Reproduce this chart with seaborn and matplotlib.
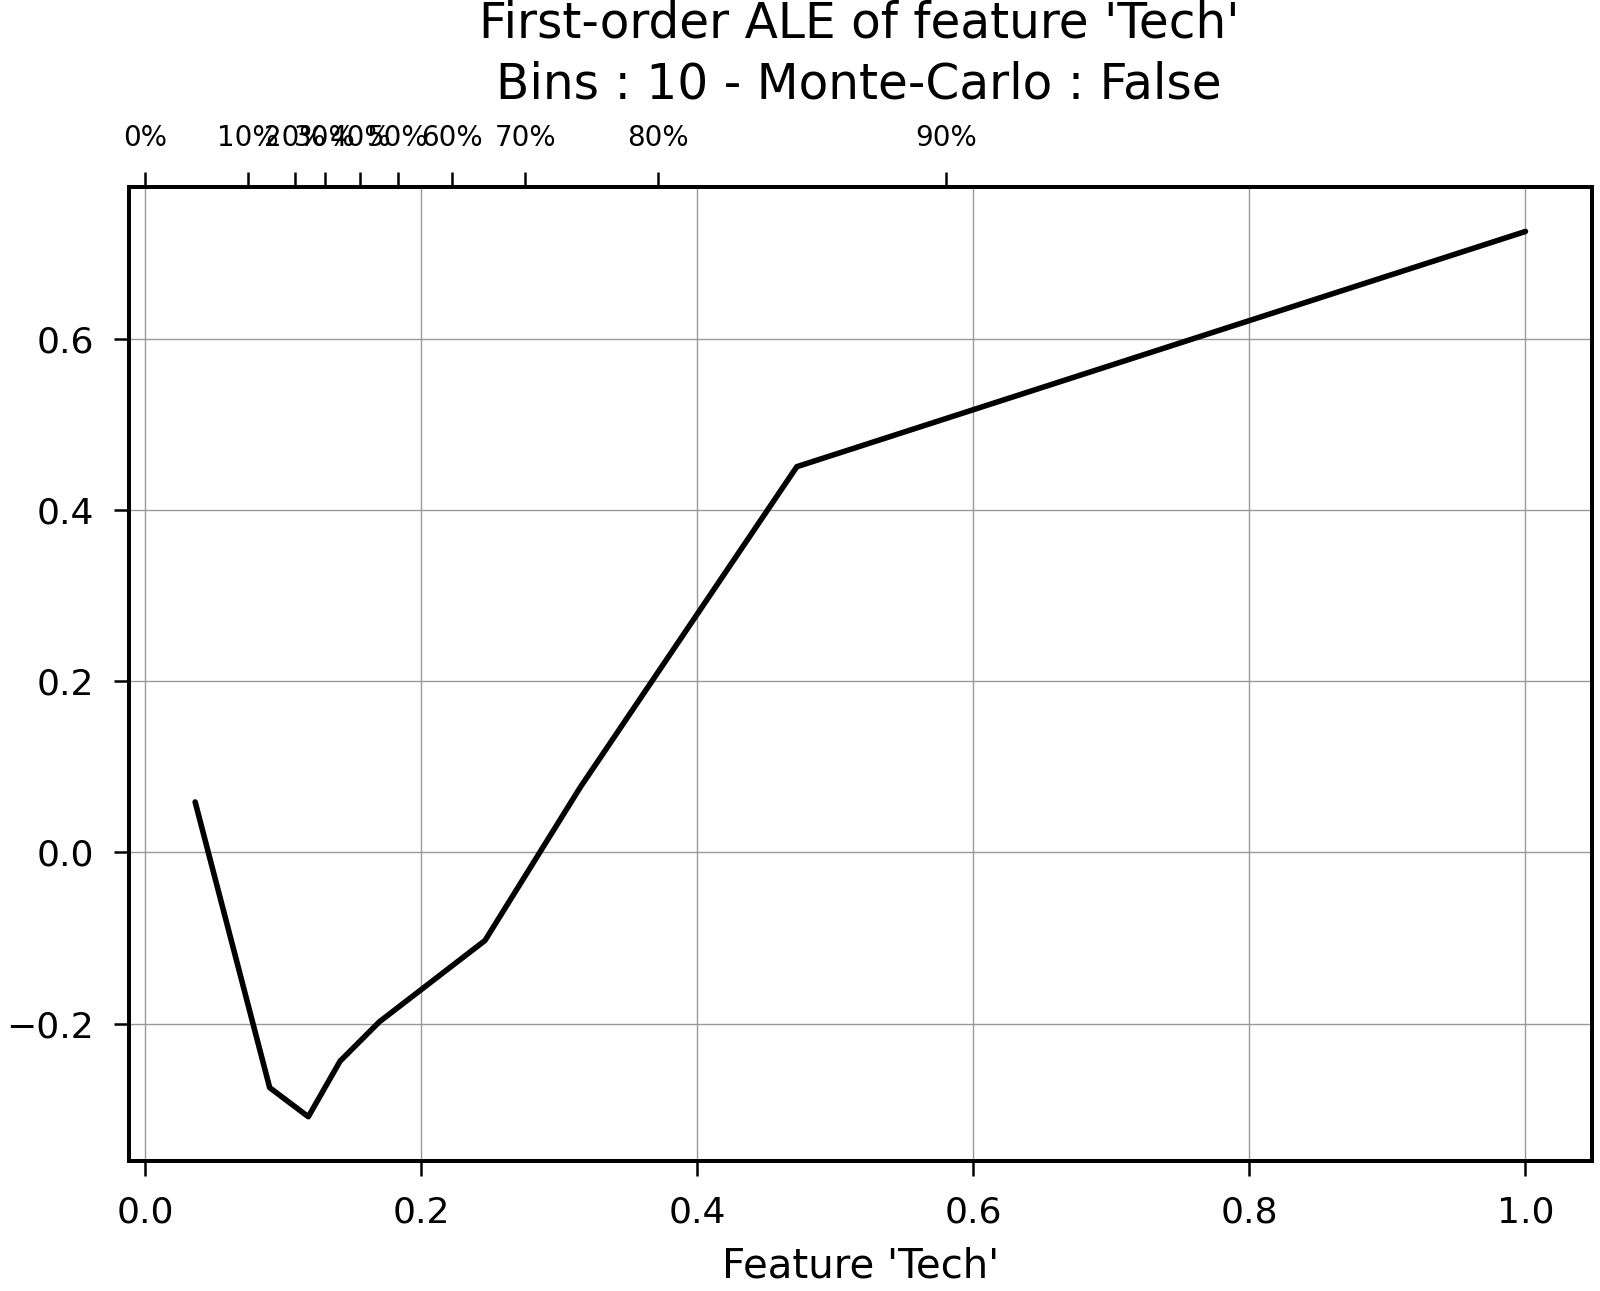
import numpy as np
import pandas as pd
import seaborn as sns
import matplotlib.pyplot as plt

# ALE curve values
feature_x = [0.036, 0.090, 0.118, 0.141, 0.1695, 0.246, 0.315, 0.472, 1.0]
ale_effect = [0.059, -0.275, -0.309, -0.244, -0.198, -0.103, 0.076, 0.451, 0.726]

# quantile edges shown on the top axis
quantile_pos = [0.0, 0.0745, 0.1085, 0.130, 0.1557, 0.183, 0.2221, 0.2753, 0.3712, 0.5801]
quantile_labels = ['0%', '10%', '20%', '30%', '40%', '50%', '60%', '70%', '80%', '90%']

df = pd.DataFrame({'x': feature_x, 'ale': ale_effect})

sns.set_style('ticks')
plt.rcParams['font.family'] = ['DejaVu Sans']
plt.rcParams['text.color'] = 'black'
plt.rcParams['axes.labelcolor'] = 'black'

fig = plt.figure(figsize=(8, 6.455), dpi=200)
ax = fig.add_axes([0.0804, 0.1007, 0.9146, 0.7543])

sns.lineplot(data=df, x='x', y='ale', ax=ax, color='black', linewidth=2.0)
ax.grid(True, color='#999999', linewidth=0.5)

ax.set_xticks([0.0, 0.2, 0.4, 0.6, 0.8, 1.0])
ax.set_yticks([-0.2, 0.0, 0.2, 0.4, 0.6])
ax.tick_params(axis='both', labelsize=13, length=5.5, width=0.9, pad=7, colors='black')
ax.set_xlabel("Feature 'Tech'", fontsize=14.5, labelpad=6)
ax.set_ylabel('')
for s in ax.spines.values():
    s.set_linewidth(1.4)
    s.set_color('black')

# top axis with quantile positions
ax_top = ax.twiny()
ax_top.set_xlim(ax.get_xlim())
ax_top.set_xticks(quantile_pos)
ax_top.set_xticklabels(quantile_labels)
ax_top.tick_params(axis='x', labelsize=10, length=5.5, width=0.9, pad=7, colors='black')
for s in ax_top.spines.values():
    s.set_linewidth(1.4)
    s.set_color('black')

fig.text(0.537, 0.958, "First-order ALE of feature 'Tech'\nBins : 10 - Monte-Carlo : False",
         ha='center', va='center', fontsize=17.5, linespacing=1.35)

fig.savefig('out.png', dpi=200)
